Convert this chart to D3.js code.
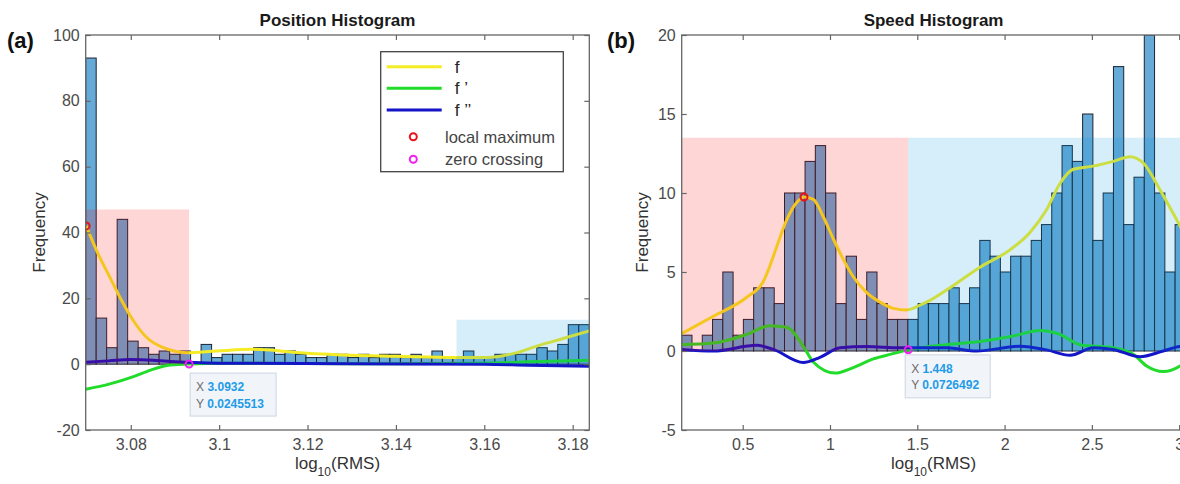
<!DOCTYPE html>
<html>
<head>
<meta charset="utf-8">
<script src="https://cdn.jsdelivr.net/npm/d3@7/dist/d3.min.js"></script>
<style>
  body { margin: 0; background: #fff; }
  svg { display: block; font-family: "Liberation Sans", Arial, sans-serif; }
</style>
</head>
<body>
<div id="chart"></div>
<script>
// position histogram (a)
var posBinStart = 3.0698, posBinWidth = 0.002374;
var posCounts = [93, 14, 5, 44, 7, 5, 3, 4, 3, 4,
                 0, 6, 2, 3, 3, 3, 5, 5, 3, 4,
                 3, 2, 2, 3, 3, 2, 3, 2, 3, 3,
                 2, 3, 2, 4, 2, 2, 4, 2, 2, 3,
                 3, 3, 3, 5, 4, 6, 12, 12];
var posXTicks = [3.08, 3.1, 3.12, 3.14, 3.16, 3.18];
var posYTicks = [-20, 0, 20, 40, 60, 80, 100];
var posF = [[3.0699, 42], [3.0723, 34.4], [3.0753, 26.3], [3.0776, 20.2], [3.0806, 13.2], [3.0836, 8.1],
            [3.0874, 5.0], [3.0926, 3.5], [3.0994, 4.0], [3.1077, 4.5], [3.1183, 3.5], [3.13, 2.7],
            [3.14, 2.4], [3.1537, 2.0], [3.1605, 2.0], [3.1665, 3.2], [3.1726, 5.8], [3.1778, 7.8], [3.1838, 10.1]];
var posF1 = [[3.0698, -7.6], [3.0753, -6.0], [3.0806, -3.8], [3.0845, -1.8], [3.0882, -0.4], [3.0932, 0.02],
             [3.1, 0.3], [3.12, 0.2], [3.14, 0.1], [3.16, 0.3], [3.17, 0.7], [3.1838, 1.2]];
var posF2 = [[3.0698, 0.6], [3.075, 1.0], [3.08, 1.4], [3.085, 1.2], [3.09, 0.7], [3.1, 0.3],
             [3.13, 0.1], [3.16, 0], [3.17, -0.3], [3.1838, -0.6]];
var posPeakZone = [3.0698, 3.0932, 47];
var posTailZone = [3.1537, 3.18376, 13.5];
var posMax = [3.0699, 42];
var posZero = [3.0932, 0.0245513];

// speed histogram (b)
var spdBinStart = 0.1506, spdBinWidth = 0.05888;
var spdCounts = [1, 0, 1, 2, 5, 1, 2, 4, 4, 3,
                 10, 10, 12, 13, 10, 3, 6, 2, 5, 3,
                 2, 2, 2, 3, 3, 3, 4, 3, 4, 7,
                 6, 5, 6, 6, 7, 8, 10, 13, 12, 15,
                 7, 10, 18, 8, 11, 20, 10, 5, 8];
var spdXTicks = [0.5, 1, 1.5, 2, 2.5, 3];
var spdYTicks = [-5, 0, 5, 10, 15, 20];
var spdF = [[0.1506, 1.1], [0.3316, 2.2], [0.5229, 3.4], [0.618, 4.4], [0.6563, 5.4], [0.6947, 6.6],
            [0.752, 8.3], [0.8093, 9.4], [0.851, 9.75], [0.9043, 9.6], [0.9616, 8.5], [1.0189, 7.1],
            [1.0761, 5.8], [1.1334, 4.7], [1.2102, 3.7], [1.2864, 3.1], [1.3625, 2.7], [1.4393, 2.6],
            [1.5155, 2.9], [1.5727, 3.2], [1.6873, 4.0], [1.8591, 5.3], [2.0309, 6.4], [2.1455, 7.5],
            [2.2411, 8.95], [2.3173, 10.6], [2.3935, 11.5], [2.508, 11.7], [2.6226, 12.0], [2.7182, 12.3],
            [2.7944, 11.9], [2.89, 10.2], [2.9662, 8.7], [3.0357, 7.3]];
var spdF1 = [[0.1506, 0.4], [0.3316, 0.5], [0.5229, 1.05], [0.6563, 1.6], [0.752, 1.5], [0.8471, 0.3],
             [0.9043, -0.7], [1.0286, -1.4], [1.1334, -1.05], [1.248, -0.5], [1.35, -0.2], [1.448, 0.07],
             [1.6684, 0.4], [1.8591, 0.6], [2.0498, 0.95], [2.2028, 1.3], [2.3173, 1.05], [2.4318, 0.4],
             [2.6226, 0.2], [2.7372, -0.2], [2.8136, -0.95], [2.9087, -1.3], [3.0046, -0.95], [3.0357, -0.7]];
var spdF2 = [[0.1506, 0.1], [0.3316, 0], [0.5801, 0.36], [0.6752, 0.1], [0.8471, -0.73], [0.9427, -0.4],
             [1.0572, 0.2], [1.2102, 0.28], [1.4011, 0.2], [1.5171, 0.2], [1.6684, 0.2], [1.8402, 0],
             [2.0884, 0.3], [2.2411, 0.07], [2.3746, -0.27], [2.508, 0.2], [2.6226, 0.1], [2.7754, -0.36],
             [2.9087, 0], [3.0046, 0.28], [3.0357, 0.3]];
var spdPeakZone = [0.1506, 1.448, 13.5];
var spdTailZone = [1.448, 3.0357, 13.5];
var spdMax = [0.851, 9.75];
var spdZero = [1.448, 0.0726492];

var legendLabels = ["f", "f \u2019", "f \u2019\u2019", "local maximum", "zero crossing"];

var width = 1180, height = 484;
var top_y = 35, bottom_y = 430;
var yellow = "#f4ec24", green = "#22dc2a", blue = "#1414c8";

var svg = d3.select("#chart")
    .append("svg")
    .attr("width", width)
    .attr("height", height);

function styleAxis(sel) {
    sel.attr("font-size", 16).attr("font-family", null);
    sel.select(".domain").remove();
    sel.selectAll("line").attr("stroke", "#666").attr("stroke-width", 1.2);
    sel.selectAll("text").attr("fill", "#4a4a4a");
}

function drawPanel(p) {
    var x = d3.scaleLinear().domain(p.xDomain).range([p.left, p.right]);
    var y = d3.scaleLinear().domain(p.yDomain).range([bottom_y, top_y]);
    var g = svg.append("g");

    g.append("clipPath")
        .attr("id", p.id + "-clip")
        .append("rect")
        .attr("x", p.left)
        .attr("y", top_y)
        .attr("width", p.right - p.left)
        .attr("height", bottom_y - top_y);

    var plot = g.append("g").attr("clip-path", "url(#" + p.id + "-clip)");

    // histogram bars (empty bins draw nothing)
    var bins = p.counts.map(function (c, i) {
        return { x0: p.binStart + i * p.binWidth, x1: p.binStart + (i + 1) * p.binWidth, n: c };
    }).filter(function (b) { return b.n > 0; });

    plot.selectAll("rect.bar")
        .data(bins)
        .enter()
        .append("rect")
        .attr("class", "bar")
        .attr("x", function (d) { return x(d.x0); })
        .attr("width", function (d) { return x(d.x1) - x(d.x0); })
        .attr("y", function (d) { return y(d.n); })
        .attr("height", function (d) { return y(0) - y(d.n); })
        .attr("fill", "rgb(102,170,215)")
        .attr("stroke", "#1b2231")
        .attr("stroke-width", 1);

    var line = d3.line()
        .x(function (d) { return x(d[0]); })
        .y(function (d) { return y(d[1]); })
        .curve(d3.curveMonotoneX);

    [[p.f, yellow], [p.f1, green], [p.f2, blue]].forEach(function (c) {
        plot.append("path")
            .attr("d", line(c[0]))
            .attr("fill", "none")
            .attr("stroke", c[1])
            .attr("stroke-width", 3);
    });

    // translucent shading over the two regions
    [[p.peakZone, "#ff0000"], [p.tailZone, "rgb(0,150,215)"]].forEach(function (z) {
        plot.append("rect")
            .attr("x", x(z[0][0]))
            .attr("width", x(z[0][1]) - x(z[0][0]))
            .attr("y", y(z[0][2]))
            .attr("height", y(0) - y(z[0][2]))
            .attr("fill", z[1])
            .attr("fill-opacity", 0.16);
    });

    plot.append("circle")
        .attr("cx", x(p.maxPt[0])).attr("cy", y(p.maxPt[1])).attr("r", 3.5)
        .attr("fill", "none").attr("stroke", "#e8141c").attr("stroke-width", 2);
    plot.append("circle")
        .attr("cx", x(p.zeroPt[0])).attr("cy", y(p.zeroPt[1])).attr("r", 3.5)
        .attr("fill", "none").attr("stroke", "#f020f0").attr("stroke-width", 2);

    // axes: ticks point inward on all four sides
    g.append("g")
        .attr("transform", "translate(0," + bottom_y + ")")
        .call(d3.axisBottom(x).tickValues(p.xTicks).tickSize(-5).tickSizeOuter(0).tickPadding(9).tickFormat(String))
        .call(styleAxis);
    g.append("g")
        .attr("transform", "translate(0," + top_y + ")")
        .call(d3.axisTop(x).tickValues(p.xTicks).tickSize(-5).tickSizeOuter(0).tickFormat(""))
        .call(styleAxis);
    g.append("g")
        .attr("transform", "translate(" + p.left + ",0)")
        .call(d3.axisLeft(y).tickValues(p.yTicks).tickSize(-5).tickSizeOuter(0).tickPadding(6).tickFormat(String))
        .call(styleAxis);
    g.append("g")
        .attr("transform", "translate(" + p.right + ",0)")
        .call(d3.axisRight(y).tickValues(p.yTicks).tickSize(-5).tickSizeOuter(0).tickFormat(""))
        .call(styleAxis);

    g.append("rect")
        .attr("x", p.left).attr("y", top_y)
        .attr("width", p.right - p.left).attr("height", bottom_y - top_y)
        .attr("fill", "none").attr("stroke", "#666").attr("stroke-width", 1.3);

    g.append("text")
        .attr("x", (p.left + p.right) / 2).attr("y", 26)
        .attr("text-anchor", "middle")
        .attr("font-size", 17).attr("font-weight", "bold").attr("fill", "#1a1a1a")
        .text(p.title);

    g.append("text")
        .attr("x", p.letterX).attr("y", 48)
        .attr("font-size", 22).attr("font-weight", "bold").attr("fill", "#111")
        .text(p.letter);

    g.append("text")
        .attr("transform", "translate(" + p.ylabelX + "," + (top_y + bottom_y) / 2 + ") rotate(-90)")
        .attr("text-anchor", "middle")
        .attr("font-size", 17).attr("fill", "#333")
        .text("Frequency");

    var xl = g.append("text")
        .attr("x", (p.left + p.right) / 2).attr("y", 469)
        .attr("text-anchor", "middle")
        .attr("font-size", 17).attr("fill", "#333");
    xl.append("tspan").text("log");
    xl.append("tspan").attr("font-size", 12).attr("dy", 7).text("10");
    xl.append("tspan").attr("dy", -7).text("(RMS)");

    // data tip at the zero crossing
    var tx = x(p.zeroPt[0]) + p.tipDx, ty = y(p.zeroPt[1]) + p.tipDy;
    var tip = g.append("g").attr("transform", "translate(" + tx + "," + ty + ")");
    tip.append("rect")
        .attr("width", p.tipW).attr("height", 43)
        .attr("fill", "#f1f4f9").attr("stroke", "#cdd5e0").attr("stroke-width", 1);
    [["X", p.zeroPt[0]], ["Y", p.zeroPt[1]]].forEach(function (r, i) {
        var t = tip.append("text")
            .attr("x", 6).attr("y", 18 + i * 16.5)
            .attr("font-size", 12);
        t.append("tspan").attr("fill", "#6b6b6b").text(r[0] + " ");
        t.append("tspan").attr("fill", "#1e9be8").attr("font-weight", "bold").text(String(r[1]));
    });

    return { x: x, y: y, g: g };
}

var pa = drawPanel({
    id: "pos", title: "Position Histogram", letter: "(a)", letterX: 7, ylabelX: 45,
    left: 85.7, right: 589.3,
    xDomain: [3.0698, 3.18376], yDomain: [-20, 100],
    xTicks: posXTicks, yTicks: posYTicks,
    binStart: posBinStart, binWidth: posBinWidth, counts: posCounts,
    f: posF, f1: posF1, f2: posF2,
    peakZone: posPeakZone, tailZone: posTailZone,
    maxPt: posMax, zeroPt: posZero,
    tipDx: 1, tipDy: 9, tipW: 86
});

drawPanel({
    id: "spd", title: "Speed Histogram", letter: "(b)", letterX: 607, ylabelX: 648,
    left: 681.7, right: 1185.4,
    xDomain: [0.1506, 3.0357], yDomain: [-5, 20],
    xTicks: spdXTicks, yTicks: spdYTicks,
    binStart: spdBinStart, binWidth: spdBinWidth, counts: spdCounts,
    f: spdF, f1: spdF1, f2: spdF2,
    peakZone: spdPeakZone, tailZone: spdTailZone,
    maxPt: spdMax, zeroPt: spdZero,
    tipDx: -3, tipDy: 5, tipW: 85
});

// legend (panel a only)
var leg = pa.g.append("g").attr("transform", "translate(380.7,51.7)");
leg.append("rect")
    .attr("width", 182.6).attr("height", 120)
    .attr("fill", "#fff").attr("stroke", "#444").attr("stroke-width", 1.3);
var legRows = [15, 36.6, 58.3, 85, 107.6];
[yellow, green, blue].forEach(function (c, i) {
    leg.append("line")
        .attr("x1", 6).attr("x2", 61).attr("y1", legRows[i]).attr("y2", legRows[i])
        .attr("stroke", c).attr("stroke-width", 3);
});
["#e8141c", "#f020f0"].forEach(function (c, i) {
    leg.append("circle")
        .attr("cx", 32.6).attr("cy", legRows[i + 3]).attr("r", 3.5)
        .attr("fill", "none").attr("stroke", c).attr("stroke-width", 2);
});
legendLabels.forEach(function (s, i) {
    leg.append("text")
        .attr("x", i < 3 ? 74 : 64.3).attr("y", legRows[i] + 6)
        .attr("font-size", i < 3 ? 17 : 16.5)
        .attr("fill", i < 3 ? "#222" : "#444")
        .text(s);
});
</script>
</body>
</html>
